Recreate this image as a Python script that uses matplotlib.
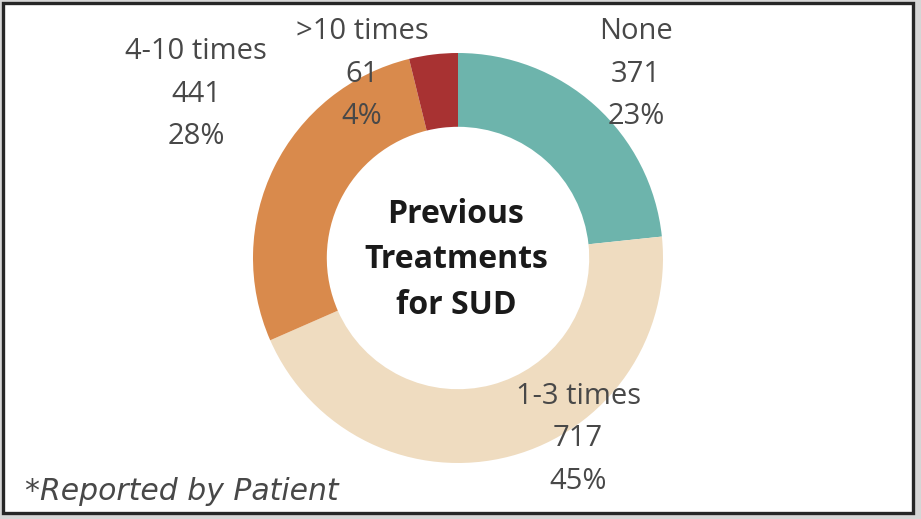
import matplotlib.pyplot as plt
from matplotlib.patches import Rectangle

categories = ["None", "1-3 times", "4-10 times", ">10 times"]
counts = [371, 717, 441, 61]
percents = ["23%", "45%", "28%", "4%"]
colors = ["#6db4ac", "#efdcc0", "#d98a4c", "#a83232"]

# label centres in pixel coords (x from left, y from top)
label_pos = [(636, 74), (578, 439), (196, 94), (362, 74)]

W, H = 921, 519
fig = plt.figure(figsize=(W / 100, H / 100), dpi=100)
fig.patch.set_facecolor("#d6d6d6")
ax = fig.add_axes([0, 0, 1, 1])

ax.add_patch(Rectangle((3, H - 513), 910, 510, facecolor="white",
                       edgecolor="#262626", linewidth=2.4, zorder=0))

cx, cy, r = 458, H - 258, 205
ax.pie(counts, colors=colors, startangle=90, counterclock=False,
       center=(cx, cy), radius=r, frame=True,
       wedgeprops=dict(width=r * 0.36, linewidth=0))
ax.set_xlim(0, W)
ax.set_ylim(0, H)
ax.set_aspect("equal")
ax.axis("off")

font = "Open Sans"
for name, n, p, (lx, ly) in zip(categories, counts, percents, label_pos):
    ax.text(lx, H - ly, f"{name}\n{n}\n{p}", ha="center", va="center",
            fontsize=21, color="#484848", family=font, linespacing=1.62)

ax.text(cx - 2, cy - 2, "Previous\nTreatments\nfor SUD", ha="center", va="center",
        fontsize=23, fontweight="bold", color="#1a1a1a", family=font,
        linespacing=1.5)

ax.text(25, H - 492, "*Reported by Patient", ha="left", va="center",
        fontsize=21.5, style="italic", color="#484848", family="DejaVu Sans")

fig.savefig("out.png", dpi=100)
